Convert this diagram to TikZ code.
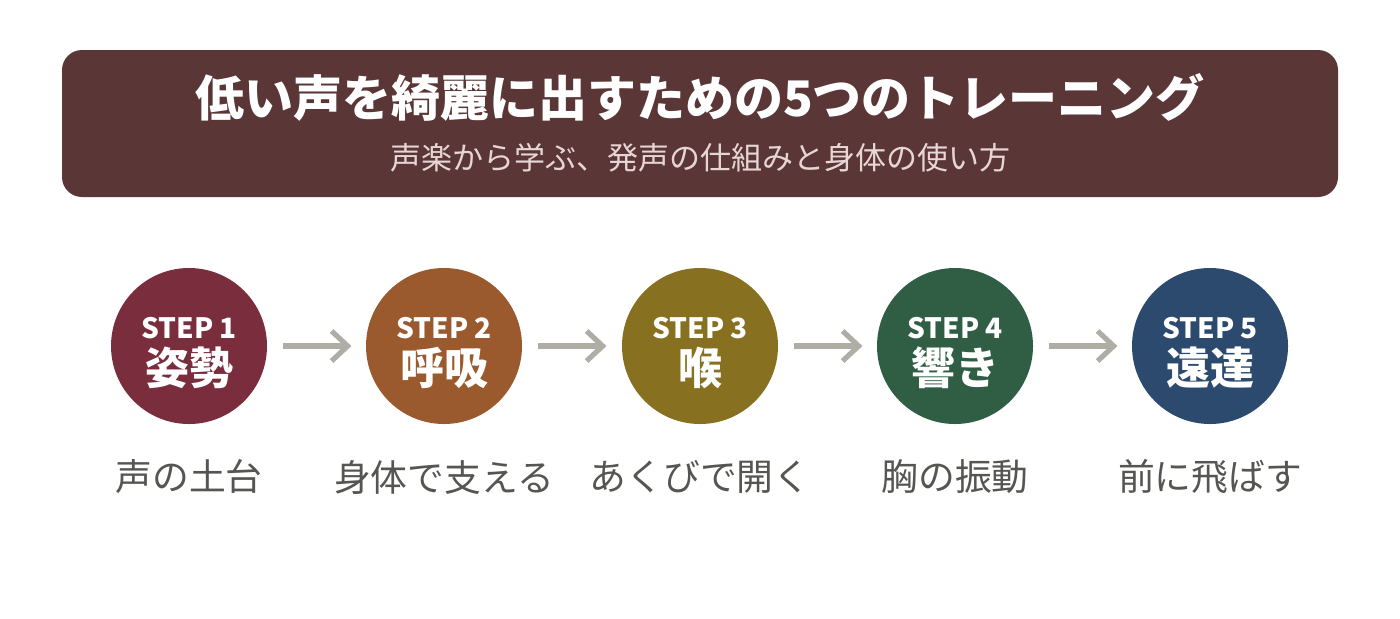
\documentclass[tikz,border=0pt]{standalone}
\usepackage{fontspec}
\setmainfont{Noto Sans CJK JP}
\newfontfamily\cjk{Noto Sans CJK JP}
\usetikzlibrary{arrows.meta}
\definecolor{hdr}{HTML}{5A3636}
\definecolor{subc}{HTML}{E8D6D6}
\definecolor{cA}{HTML}{7A2D3C}
\definecolor{cB}{HTML}{9B5A2E}
\definecolor{cC}{HTML}{87701F}
\definecolor{cD}{HTML}{2F5E44}
\definecolor{cE}{HTML}{2C4A6E}
\definecolor{arr}{HTML}{AEAEA6}
\definecolor{lbl}{HTML}{555552}
\tikzset{
  stepcirc/.style={circle, minimum size=156pt*0.5, inner sep=0pt},
  steptxt/.style={text=white, font=\cjk\bfseries\fontsize{14pt}{14pt}\selectfont, inner sep=0pt},
  stepname/.style={text=white, font=\cjk\bfseries\fontsize{22pt}{22pt}\selectfont, inner sep=0pt},
  steplabel/.style={text=lbl, font=\cjk\fontsize{18.4pt}{18.4pt}\selectfont, inner sep=0pt},
  flowarrow/.style={draw=arr, line width=2.6pt, -{Straight Barb[length=8pt,width=15pt,line width=2.6pt]}}
}
\begin{document}
\begin{tikzpicture}[x=0.5pt,y=-0.5pt]
\useasboundingbox (0,0) rectangle (1400,618);
\fill[white] (0,0) rectangle (1400,618);
\node[fill=hdr, rounded corners=10pt, minimum width=638pt, minimum height=73.5pt, inner sep=0pt] (header) at (700,123.5) {};
\node[text=white, font=\cjk\bfseries\fontsize{24.5pt}{24.5pt}\selectfont, inner sep=0pt] (title) at (700,97) {低い声を綺麗に出すための5つのトレーニング};
\node[text=subc, font=\cjk\fontsize{15.5pt}{15.5pt}\selectfont, inner sep=0pt] (subtitle) at (700,158) {声楽から学ぶ、発声の仕組みと身体の使い方};
\foreach \i/\x/\c/\n/\l in {1/189/cA/姿勢/声の土台, 2/444/cB/呼吸/身体で支える, 3/700/cC/喉/あくびで開く, 4/955/cD/響き/胸の振動, 5/1210/cE/遠達/前に飛ばす}{
  \node[stepcirc, fill=\c] (c\i) at (\x,346) {};
  \node[steptxt] (s\i) at (\x,328) {STEP \i};
  \node[stepname] (n\i) at (\x,368) {\n};
  \node[steplabel] (l\i) at (\x,477) {\l};
}
\foreach \a/\b in {1/2,2/3,3/4,4/5}{
  \draw[flowarrow] ([xshift=-1pt]c\a.east) ++(18,0) coordinate (p\a) -- ++(68,0) coordinate (q\a);
}
\end{tikzpicture}
\end{document}
